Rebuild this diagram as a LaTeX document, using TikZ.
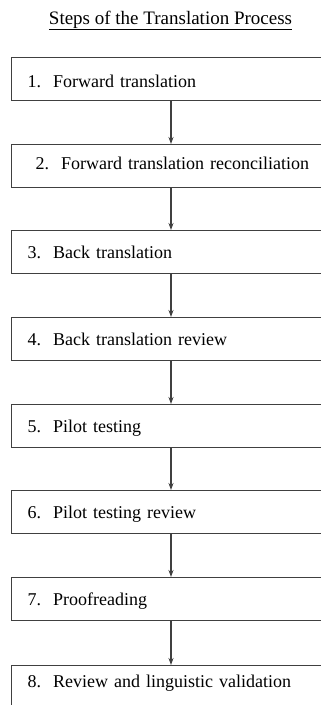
\documentclass[tikz,border=0pt]{standalone}
\usepackage{fontspec}
\setmainfont{Liberation Serif}
\usetikzlibrary{arrows.meta,calc}
\begin{document}
\begin{tikzpicture}[x=1pt,y=-1pt,
  stepbox/.style={draw=black!75, line width=1.3pt, rectangle, anchor=north west,
    minimum width=340pt, minimum height=43pt, text width=308pt, align=left,
    inner xsep=16pt, inner ysep=0pt, text height=14pt, text depth=2pt,
    font=\fontsize{18}{20}\selectfont},
  arr/.style={draw=black!75, line width=1.1pt, -{Stealth[length=7pt,width=5pt]}},
  ttl/.style={font=\fontsize{19}{22}\selectfont, anchor=base}]
\useasboundingbox (0,0) rectangle (321,705);
\clip (0,0) rectangle (321,705);
\node[ttl] (title) at (170.5,24) {\underline{Steps of the Translation Process}};
\node[stepbox, text height=17pt, text depth=1pt] (b1) at (11,57) {1.\ \ Forward translation};
\node[stepbox, inner xsep=24pt, text width=292pt, text height=12pt, text depth=6pt] (b2) at (11,144) {2.\ \ Forward translation reconciliation};
\node[stepbox] (b3) at (11,230) {3.\ \ Back translation};
\node[stepbox] (b4) at (11,317) {4.\ \ Back translation review};
\node[stepbox] (b5) at (11,404) {5.\ \ Pilot testing};
\node[stepbox] (b6) at (11,490) {6.\ \ Pilot testing review};
\node[stepbox] (b7) at (11,577) {7.\ \ Proofreading};
\node[stepbox, minimum height=44pt, text height=10pt, text depth=10pt] (b8) at (11,665) {8.\ \ Review and linguistic validation};
\coordinate (ax) at (171,0);
\foreach \a/\b in {b1/b2,b2/b3,b3/b4,b4/b5,b5/b6,b6/b7,b7/b8}
  \draw[arr] (\a.south -| ax) -- (\b.north -| ax);
\end{tikzpicture}
\end{document}
